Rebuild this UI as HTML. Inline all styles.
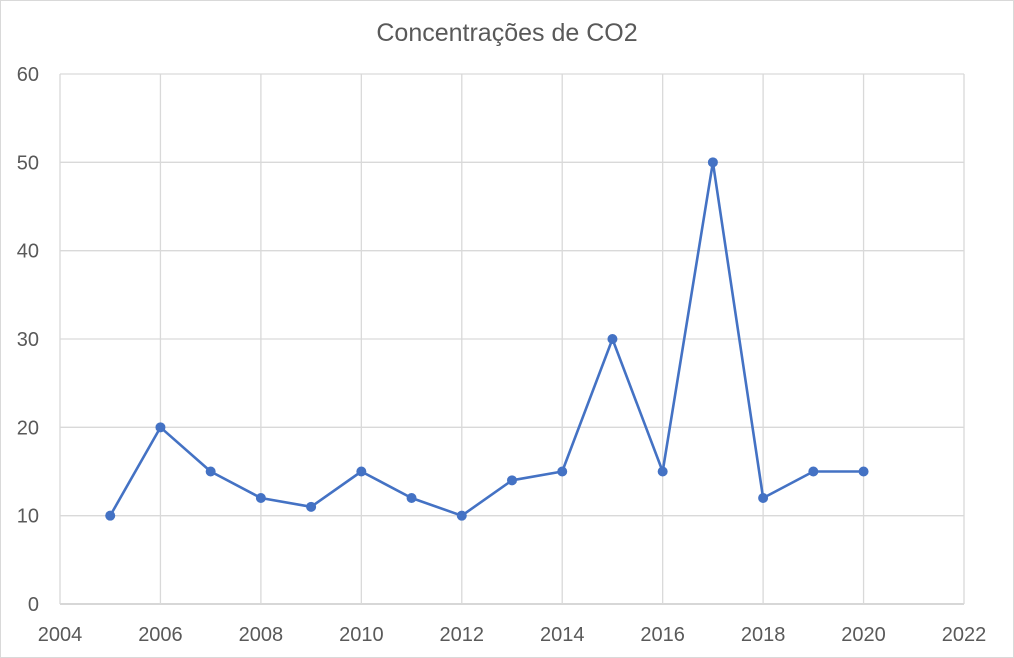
<!DOCTYPE html>
<html><head><meta charset="utf-8"><style>
body{margin:0;background:#fff;}
svg{display:block;font-family:"Liberation Sans",Arial,sans-serif;}
</style></head><body>
<svg id="chart" width="1014" height="658">
<rect x="0.5" y="0.5" width="1013" height="657" fill="#fff" stroke="#d9d9d9"/>
<text x="507" y="41" text-anchor="middle" font-size="25" fill="#595959">Concentrações de CO2</text>
<g id="grid"></g><g id="axes"></g><g id="series"></g>
</svg>
<script>
const years=[2005,2006,2007,2008,2009,2010,2011,2012,2013,2014,2015,2016,2017,2018,2019,2020];
const values=[10,20,15,12,11,15,12,10,14,15,30,15,50,12,15,15];
const xTicks=[2004,2006,2008,2010,2012,2014,2016,2018,2020,2022];
const yTicks=[0,10,20,30,40,50,60];
const X0=60,X1=964,Y0=604,Y1=74;
const xs=v=>X0+(v-2004)/(2022-2004)*(X1-X0);
const ys=v=>Y0-v/60*(Y0-Y1);
const NS="http://www.w3.org/2000/svg";
const grid=document.getElementById('grid'),axes=document.getElementById('axes'),series=document.getElementById('series');
function mk(tag,attrs,parent){const e=document.createElementNS(NS,tag);for(const k in attrs)e.setAttribute(k,attrs[k]);parent.appendChild(e);return e;}
yTicks.forEach(t=>{
 const l=mk('line',{x1:X0,x2:X1,y1:ys(t),y2:ys(t),stroke:t===0?'#bfbfbf':'#d9d9d9','stroke-width':1.3},grid);
 
 
 const tx=mk('text',{x:39,y:ys(t)+7,'text-anchor':'end','font-size':20,fill:'#595959'},axes);
 tx.textContent=t;
 
 
});
xTicks.forEach(t=>{
 const l=mk('line',{x1:xs(t),x2:xs(t),y1:Y1,y2:Y0,stroke:'#d9d9d9','stroke-width':1.3},grid);
 
 
 const tx=mk('text',{x:xs(t),y:641,'text-anchor':'middle','font-size':20,fill:'#595959'},axes);
 tx.textContent=t;
 
 
});
const pts=years.map((y,i)=>xs(y)+','+ys(values[i])).join(' ');
const pl=mk('polyline',{points:pts,fill:'none',stroke:'#4472C4','stroke-width':2.6,'stroke-linejoin':'round'},series);


years.forEach((y,i)=>{
 const c=mk('circle',{cx:xs(y),cy:ys(values[i]),r:5,fill:'#4472C4'},series);
 
 
});
</script>
</body></html>
